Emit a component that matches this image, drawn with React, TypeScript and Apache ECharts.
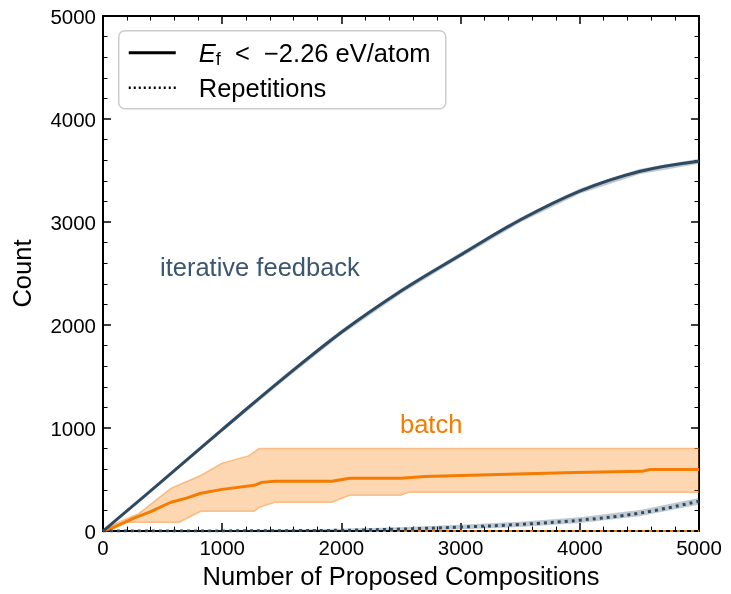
import React, { useEffect, useRef } from "react";
import * as echarts from "echarts";

const iterX = [0, 500, 1000, 1500, 2000, 2500, 3000, 3500, 4000, 4500, 5000];
const iterY = [0, 490, 985, 1470, 1930, 2330, 2680, 3020, 3300, 3490, 3590];
const iterBand = [0, 15, 20, 25, 25, 25, 25, 25, 25, 25, 25];

const batchX = [0, 100, 260, 400, 570, 700, 820, 1000, 1270, 1330, 1440, 1920, 2070, 2500, 2700, 3320, 3960, 4520, 4590, 5000];
const batchMean = [0, 40, 125, 190, 280, 320, 367, 405, 444, 473, 483, 483, 512, 512, 531, 550, 570, 580, 598, 598];

const bandX = [0, 100, 200, 300, 570, 640, 820, 1000, 1220, 1270, 1310, 1440, 1920, 2070, 2500, 2560, 5000];
const bandUpper = [0, 70, 120, 170, 415, 450, 540, 660, 730, 770, 801, 801, 801, 801, 801, 801, 801];
const bandLower = [0, 60, 87, 87, 87, 87, 193, 193, 193, 193, 230, 280, 280, 348, 348, 376, 376];

const repX = [0, 1000, 1500, 2000, 2500, 3000, 3500, 4000, 4500, 5000];
const repY = [0, 2, 4, 8, 20, 39, 65, 106, 174, 290];
const repBand = [0, 8, 12, 15, 18, 22, 25, 28, 30, 32];

const xTicks = [0, 1000, 2000, 3000, 4000, 5000];
const yTicks = [0, 1000, 2000, 3000, 4000, 5000];

const BLUE = "#2e4a62";
const ORANGE = "#f57c00";
const FONT = "Liberation Sans";

function pairs(xs: number[], ys: number[]) {
  return xs.map((x, i) => [x, ys[i]]);
}

function bandSeries(xs: number[], lo: number[], hi: number[], fill: string, stroke: string | null, z: number) {
  return {
    type: "custom",
    z,
    silent: true,
    data: [[xs[0], lo[0]]],
    renderItem: (params: any, api: any) => {
      const top = xs.map((x, i) => api.coord([x, hi[i]]));
      const bot = xs.map((x, i) => api.coord([x, lo[i]])).reverse();
      const children: any[] = [
        { type: "polygon", shape: { points: top.concat(bot) }, style: { fill } },
      ];
      if (stroke) {
        children.push({ type: "polyline", shape: { points: top }, style: { stroke, lineWidth: 1.5, fill: null } });
        children.push({ type: "polyline", shape: { points: bot }, style: { stroke, lineWidth: 1.5, fill: null } });
      }
      return { type: "group", children };
    },
  };
}

export default function App() {
  const ref = useRef<HTMLDivElement>(null);
  useEffect(() => {
    if (!ref.current) return;
    const chart = echarts.init(ref.current, null, { renderer: "svg" });
    const axisCommon = {
      type: "value",
      min: 0,
      max: 5000,
      interval: 1000,
      axisLine: { show: true, onZero: false, lineStyle: { color: "#000", width: 2 } },
      axisTick: { show: true, inside: true, length: 8, lineStyle: { color: "#000", width: 1.5 } },
      minorTick: { show: true, splitNumber: 5, length: 4.5, lineStyle: { color: "#000", width: 1 } },
      splitLine: { show: false },
    };
    const labelStyle = { color: "#000", fontFamily: FONT, fontSize: 20.5 };
    const titleStyle = { color: "#000", fontFamily: FONT, fontSize: 25.5 };
    chart.setOption({
      animation: false,
      grid: { left: 103, right: 32, top: 16, bottom: 59 },
      xAxis: [
        {
          ...axisCommon,
          position: "bottom",
          name: "Number of Proposed Compositions",
          nameLocation: "middle",
          nameGap: 29,
          nameTextStyle: titleStyle,
          axisLabel: { ...labelStyle, margin: 6, formatter: (v: number) => (xTicks.includes(v) ? String(v) : "") },
        },
        {
          ...axisCommon,
          position: "top",
          axisLabel: { show: false },
        },
      ],
      yAxis: [
        {
          ...axisCommon,
          position: "left",
          name: "Count",
          nameLocation: "middle",
          nameGap: 68,
          nameTextStyle: titleStyle,
          axisLabel: { ...labelStyle, margin: 7, formatter: (v: number) => (yTicks.includes(v) ? String(v) : "") },
        },
        {
          ...axisCommon,
          position: "right",
          axisLabel: { show: false },
        },
      ],
      series: [
        bandSeries(bandX, bandLower, bandUpper, "rgba(245,124,0,0.3)", "rgba(245,150,60,0.55)", 1),
        bandSeries(iterX, iterY.map((v, i) => v - iterBand[i]), iterY.map((v, i) => v + iterBand[i]), "rgba(46,74,98,0.3)", null, 1),
        bandSeries(repX, repY.map((v, i) => Math.max(0, v - repBand[i])), repY.map((v, i) => v + repBand[i]), "rgba(46,74,98,0.3)", null, 1),
        {
          type: "line",
          data: pairs(batchX, batchMean),
          showSymbol: false,
          lineStyle: { color: ORANGE, width: 3 },
          z: 3,
        },
        {
          type: "line",
          data: pairs(iterX, iterY),
          smooth: 0.4,
          showSymbol: false,
          lineStyle: { color: BLUE, width: 3 },
          z: 4,
        },
        {
          type: "line",
          data: pairs(repX, repY),
          smooth: 0.4,
          showSymbol: false,
          lineStyle: { color: BLUE, width: 3, type: [3, 4] },
          z: 4,
        },
        {
          type: "line",
          data: pairs([0, 5000], [0, 0]),
          showSymbol: false,
          lineStyle: { color: ORANGE, width: 2, type: [3, 4] },
          z: 2,
        },
      ],
      graphic: [
        {
          type: "text",
          left: 160,
          top: 254,
          style: { text: "iterative feedback", fill: "#3b5670", font: `25.5px ${FONT}` },
        },
        {
          type: "text",
          left: 400,
          top: 411,
          style: { text: "batch", fill: ORANGE, font: `25.5px ${FONT}` },
        },
        {
          type: "group",
          left: 118,
          top: 30,
          children: [
            {
              type: "rect",
              shape: { x: 0, y: 0, width: 327, height: 78, r: 6 },
              style: { fill: "rgba(255,255,255,0.85)", stroke: "#cccccc", lineWidth: 1.5 },
            },
            { type: "line", shape: { x1: 10, y1: 22, x2: 57, y2: 22 }, style: { stroke: "#000", lineWidth: 3 } },
            { type: "line", shape: { x1: 10, y1: 57, x2: 60, y2: 57 }, style: { stroke: "#000", lineWidth: 2.5, lineDash: [2, 3] } },
            {
              type: "text",
              x: 80,
              y: 22,
              style: {
                text: "{i|E}{s|f}{n|  <  −2.26 eV/atom}",
                verticalAlign: "middle",
                rich: {
                  i: { fontFamily: FONT, fontSize: 25.5, fontStyle: "italic", fill: "#000" },
                  s: { fontFamily: FONT, fontSize: 18, fill: "#000", padding: [12, 0, 0, 0] },
                  n: { fontFamily: FONT, fontSize: 25.5, fill: "#000" },
                },
              },
            },
            {
              type: "text",
              x: 80,
              y: 57,
              style: { text: "Repetitions", fill: "#000", font: `25.5px ${FONT}`, verticalAlign: "middle" },
            },
          ],
        },
      ],
    });
    return () => chart.dispose();
  }, []);
  return <div ref={ref} style={{ position: "fixed", left: 0, top: 0, width: 731, height: 594 }} />;
}
